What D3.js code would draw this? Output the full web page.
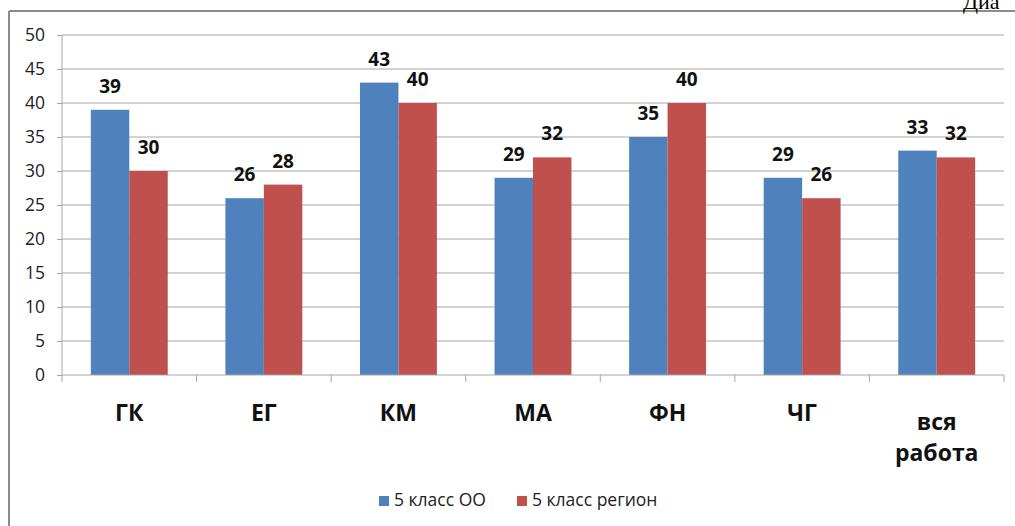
<!DOCTYPE html>
<html>
<head>
<meta charset="utf-8">
<script src="https://cdn.jsdelivr.net/npm/d3@7"></script>
<style>
  body { margin: 0; background: #fff; }
  svg text { font-family: "Open Sans", "Noto Sans", sans-serif; }
</style>
</head>
<body>
<div id="canvas"></div>
<script>
const categories = [["ГК"], ["ЕГ"], ["КМ"], ["МА"], ["ФН"], ["ЧГ"], ["вся", "работа"]];
const seriesNames = ["5 класс ОО", "5 класс регион"];
const valuesOO = [39, 26, 43, 29, 35, 29, 33];
const valuesRegion = [30, 28, 40, 32, 40, 26, 32];
const yTicks = [0, 5, 10, 15, 20, 25, 30, 35, 40, 45, 50];
const colors = ["#4F81BD", "#C0504D"];

const width = 1015;
const height = 526;
const margin = { top: 35, left: 62, bottom: 151, right: 11 };
const iwidth = width - margin.left - margin.right;
const iheight = height - margin.top - margin.bottom;

const svg = d3.select("#canvas").append("svg")
  .attr("width", width)
  .attr("height", height);

// outer frame (only left and top edges are visible)
svg.append("line").attr("x1", 9).attr("x2", width).attr("y1", 11).attr("y2", 11)
  .attr("stroke", "#8c8c8c").attr("stroke-width", 2);
svg.append("line").attr("x1", 9).attr("x2", 9).attr("y1", 11).attr("y2", height)
  .attr("stroke", "#8c8c8c").attr("stroke-width", 2);

// caption fragment at top right
svg.append("text").attr("x", 963).attr("y", 9)
  .style("font-family", "'Liberation Serif', serif").style("font-size", "22px")
  .attr("fill", "#000").text("Диа");

const g = svg.append("g").attr("transform", `translate(${margin.left},${margin.top})`);

const y = d3.scaleLinear().domain([0, 50]).range([iheight, 0]);
// gap width 150% like Excel
const step = iwidth / categories.length;
const barW = step / 3.5;
const xs = d3.scaleBand().domain([0, 1]).range([0, 2 * barW]);

// y axis + gridlines
const yAxis = g.append("g")
  .call(d3.axisLeft(y).tickValues(yTicks).tickSize(5).tickPadding(12));
yAxis.select(".domain").remove();
yAxis.selectAll(".tick line").attr("stroke", "#a6a6a6");
yAxis.selectAll(".tick text").style("font-size", "17.5px").attr("fill", "#222");
g.append("g").selectAll("line").data(yTicks.filter(d => d > 0)).join("line")
  .attr("x1", 0).attr("x2", iwidth)
  .attr("y1", d => y(d)).attr("y2", d => y(d))
  .attr("stroke", "#a6a6a6");
g.append("line").attr("x1", 0).attr("x2", 0).attr("y1", 0).attr("y2", iheight)
  .attr("stroke", "#a6a6a6");

// bars
const groups = g.selectAll(".grp").data(categories).join("g")
  .attr("class", "grp")
  .attr("transform", (d, i) => `translate(${i * step + (step - 2 * barW) / 2},0)`);

[valuesOO, valuesRegion].forEach((vals, s) => {
  groups.append("rect")
    .attr("x", xs(s))
    .attr("y", (d, i) => y(vals[i]))
    .attr("width", barW)
    .attr("height", (d, i) => iheight - y(vals[i]))
    .attr("fill", colors[s]);
  groups.append("text")
    .attr("x", xs(s) + barW / 2)
    .attr("y", (d, i) => y(vals[i]) - 17)
    .attr("text-anchor", "middle")
    .style("font-size", "19px").style("font-weight", "bold")
    .attr("fill", "#111")
    .text((d, i) => vals[i]);
});

// x axis
g.append("line").attr("x1", 0).attr("x2", iwidth).attr("y1", iheight).attr("y2", iheight)
  .attr("stroke", "#a6a6a6");
g.append("g").selectAll("line").data(d3.range(categories.length + 1)).join("line")
  .attr("x1", d => d * step).attr("x2", d => d * step)
  .attr("y1", iheight).attr("y2", iheight + 7)
  .attr("stroke", "#a6a6a6");

const catLabels = g.append("g").selectAll("text").data(categories).join("text")
  .attr("x", (d, i) => i * step + step / 2)
  .attr("y", d => iheight + (d.length > 1 ? 55 : 46))
  .attr("text-anchor", "middle")
  .style("font-size", "23px").style("font-weight", "bold")
  .attr("fill", "#111");
catLabels.selectAll("tspan").data(d => d).join("tspan")
  .attr("x", function() { return d3.select(this.parentNode).attr("x"); })
  .attr("dy", (d, i) => i === 0 ? 0 : 31)
  .text(d => d);

// legend
const legend = svg.append("g").attr("transform", "translate(379,506)");
const legendX = [0, 138];
seriesNames.forEach((name, i) => {
  legend.append("rect").attr("x", legendX[i]).attr("y", -10)
    .attr("width", 10).attr("height", 10).attr("fill", colors[i]);
  legend.append("text").attr("x", legendX[i] + 15).attr("y", 0)
    .style("font-size", "17.5px").attr("fill", "#222").text(name);
});
</script>
</body>
</html>
